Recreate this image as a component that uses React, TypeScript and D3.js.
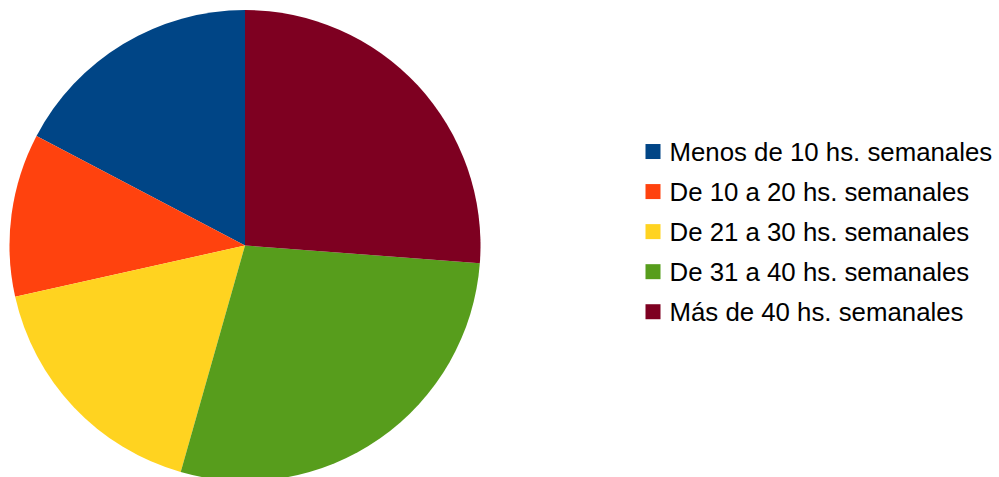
import * as d3 from "d3";
import React from "react";

const width = 999;
const height = 477;

// (share of the pie, %)
const categories = [
  "Menos de 10 hs. semanales",
  "De 10 a 20 hs. semanales",
  "De 21 a 30 hs. semanales",
  "De 31 a 40 hs. semanales",
  "Más de 40 hs. semanales",
];
const values = [17.3, 11.2, 17.1, 28.2, 26.2];
const colors = ["#004586", "#ff420e", "#ffd320", "#579d1c", "#7e0021"];

export default function App() {
  const cx = 245;
  const cy = 245.5;
  const radius = 235.5;

  // LibreOffice-style pie: starts at 12 o'clock, runs counter-clockwise
  const pie = d3
    .pie<number>()
    .sort(null)
    .startAngle(0)
    .endAngle(-2 * Math.PI);
  const arcs = pie(values);
  const arc = d3.arc<d3.PieArcDatum<number>>().innerRadius(0).outerRadius(radius);

  const color = d3.scaleOrdinal<string, string>().domain(categories).range(colors);

  // legend rows
  const legendY = d3
    .scaleBand()
    .domain(categories)
    .range([131.5, 331.75])
    .paddingInner(0);

  return (
    <svg
      width={width}
      height={height}
      style={{ position: "absolute", left: 0, top: 0, background: "#fff" }}
      fontFamily="'Liberation Sans', Arial, sans-serif"
    >
      <g transform={`translate(${cx},${cy})`}>
        {arcs.map((a, i) => (
          <path key={i} d={arc(a) ?? ""} fill={color(categories[i])} />
        ))}
      </g>
      <g>
        {categories.map((c) => {
          const y = (legendY(c) ?? 0) + legendY.bandwidth() / 2;
          return (
            <g key={c} transform={`translate(645.5,${y})`}>
              <rect x={0} y={-7.5} width={15} height={15} fill={color(c)} />
              <text x={24} y={9.3} fontSize={25.8} fill="#000">
                {c}
              </text>
            </g>
          );
        })}
      </g>
    </svg>
  );
}
